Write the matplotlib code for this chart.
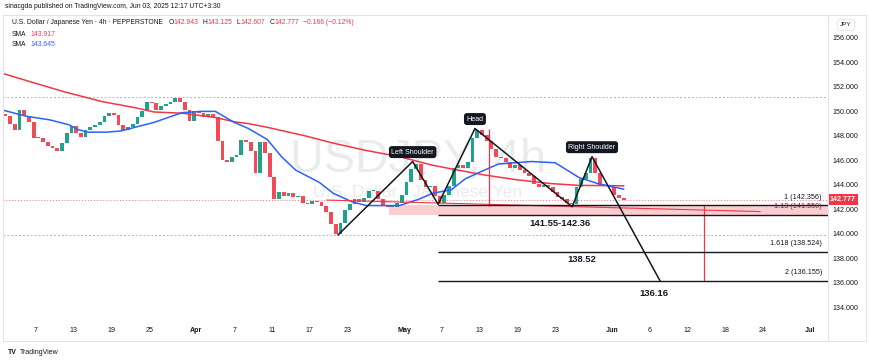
import matplotlib
matplotlib.use("Agg")
import matplotlib.pyplot as plt
import numpy as np
from matplotlib import font_manager
from matplotlib.patches import Rectangle
from matplotlib.lines import Line2D
from matplotlib.transforms import blended_transform_factory

W, H = 870, 363

installed = {f.name for f in font_manager.fontManager.ttflist}
NARROW = 'Liberation Sans Narrow' in installed
BASE_FONT = 'Liberation Sans Narrow' if NARROW else 'Liberation Sans'
FS = 1.0 if NARROW else 0.84
plt.rcParams['font.family'] = [BASE_FONT, 'DejaVu Sans']

# ---- data (x in trading days from Mon Mar 3, 2025; prices in JPY) ----
first_open = 149.8
closes_12h = [
    149.6, 149.0, 148.5, 150.1, 149.6, 149.1, 147.8, 147.8, 147.5, 147.2,
    147.0, 146.8, 147.4, 148.2, 148.8, 148.2, 147.9, 148.5, 148.7, 148.9,
    149.1, 149.6, 149.9, 149.7, 148.9, 148.5, 148.7, 149.0, 149.5, 150.0,
    150.8, 150.7, 150.1, 150.4, 150.6, 150.8, 151.1, 150.8, 150.1, 149.2,
    150.0, 149.9, 149.5, 149.8, 149.5, 147.6, 146.0, 145.9, 146.3, 146.4,
    147.7, 147.5, 146.8, 145.0, 147.5, 146.6, 144.6, 142.8, 143.4, 143.1,
    143.3, 143.0, 143.1, 142.5, 142.4, 142.7, 142.6, 142.3, 141.8, 140.8,
    140.0, 140.9, 141.9, 142.4, 142.8, 142.6, 142.9, 143.5, 143.5, 142.8,
    142.3, 142.2, 142.2, 142.5, 143.2, 144.2, 145.3, 145.7, 144.4, 143.8,
    143.9, 143.1, 142.5, 143.2, 143.9, 145.4, 145.6, 145.4, 145.9, 147.8,
    148.5, 148.1, 147.6, 146.9, 146.3, 146.2, 145.9, 145.4, 145.6, 145.2,
    145.0, 144.7, 144.1, 143.8, 144.0, 143.8, 143.4, 143.0, 142.8, 142.5,
    142.4, 143.8, 144.5, 145.0, 146.2, 145.0, 144.0, 143.9, 143.8, 143.2,
    142.9, 142.777,
]

sma_slow_t = [0.5, 3.5, 7, 11, 14.5, 16.5, 19.5, 23, 25, 26.5, 28.5, 32.5,
              35.5, 39, 42.5, 46, 48, 51.5, 55, 58.5, 61.5, 66.25]
sma_slow_p = [153.1, 152.4, 151.6, 150.8, 150.3, 149.95, 149.85, 149.5, 149.15,
              149.0, 148.7, 148.0, 147.4, 146.8, 146.3, 145.6, 145.3, 144.8,
              144.4, 144.1, 143.95, 143.917]

sma_fast_t = [0.5, 3, 5.5, 7.5, 8.5, 9.5, 11.5, 13, 15, 16.5, 18, 19.5, 21.5,
              23, 25, 26.5, 28.5, 30, 31.5, 34, 35.5, 37.5, 39, 41, 42.5, 44.5,
              46, 48, 49.5, 51.5, 53, 56.5, 59, 61.5, 63.5, 66.25]
sma_fast_p = [150.1, 149.6, 149.3, 148.9, 148.5, 148.3, 148.3, 148.4, 148.8,
              149.1, 149.5, 149.9, 150.0, 150.0, 149.1, 148.6, 147.7, 146.3,
              145.2, 144.2, 143.3, 142.6, 142.3, 142.3, 142.3, 142.8, 143.3,
              143.6, 144.5, 145.2, 145.7, 145.9, 145.8, 144.6, 144.1, 143.645]

pattern_t = [36.0, 43.9, 46.6, 50.5, 60.8, 62.9, 70.1]
pattern_p = [139.9, 145.9, 142.4, 148.6, 142.2, 146.3, 136.155]
pattern_names = {1: 'Left Shoulder', 3: 'Head', 5: 'Right Shoulder'}

fib_ratios = ['1', '1.13', '1.618', '2']
fib_prices = [142.356, 141.550, 138.524, 136.155]
fib_start_t = 46.6

zone_start_t = 41.4
zone_low, zone_high = 141.55, 142.356
slope_t = [34.8, 80.7]
slope_p = [142.75, 141.81]
measure_t = [52.0, 74.8]
measure_top = [148.6, 142.356]
measure_bottom = [142.3, 136.155]
level_lines = [151.2, 139.9]
target_texts = ['141.55-142.36', '138.52', '136.16']
target_t = [59.5, 61.85, 69.4]
target_p = [140.87, 137.85, 135.07]

last_price = 142.777
ohlc_names = ['O', 'H', 'L', 'C']
ohlc_values = [142.943, 143.125, 142.607, 142.777]
change, change_pct = -0.166, -0.12
sma_values = [143.917, 143.645]

date_tick_t = [4, 8, 12, 16, 21, 25, 29, 33, 37, 43, 47, 51, 55, 59, 65, 69,
               73, 77, 81, 86]
date_tick_labels = ['7', '13', '19', '25', 'Apr', '7', '11', '17', '23', 'May',
                    '7', '13', '19', '23', 'Jun', '6', '12', '18', '24', 'Jul']
price_ticks = list(range(134, 157, 2))

UP, DOWN, BLUE, INK = '#089981', '#F23645', '#2962FF', '#131722'

fig = plt.figure(figsize=(W / 100, H / 100), dpi=100)
ax = fig.add_axes([3 / W, 1 - 322 / H, (828 - 3) / W, (322 - 15) / H])
ax.set_xlim(0.504, 87.9)
ax.set_ylim(132.78, 157.88)
for s in ax.spines.values():
    s.set_visible(False)

# watermark
ax.text(0.503, 0.528, 'USDJPY, 4h', transform=ax.transAxes, ha='center',
        va='center', fontsize=40 * FS, color='#787b86', alpha=0.15, zorder=0)
ax.text(0.503, 0.423, 'U.S. Dollar / Japanese Yen', transform=ax.transAxes,
        ha='center', va='center', fontsize=15 * FS, color='#787b86', alpha=0.15, zorder=0)

# candles
closes = np.array(closes_12h)
opens = np.concatenate([[first_open], closes[:-1]])
bar_t = 0.5 * np.arange(1, len(closes) + 1) + 0.25
colors = np.where(closes >= opens, UP, DOWN)
ax.bar(bar_t, np.maximum(np.abs(closes - opens), 0.08), bottom=np.minimum(opens, closes),
       width=0.4, color=colors, linewidth=0, alpha=0.9, zorder=3)

ax.plot(sma_slow_t, sma_slow_p, color=DOWN, lw=1.1, zorder=4)
ax.plot(sma_fast_t, sma_fast_p, color=BLUE, lw=1.1, zorder=4)

# drawings
for p in level_lines:
    ax.axhline(p, color='#b2b5be', lw=0.7, ls=(0, (2, 2)), zorder=1)
ax.axhline(last_price, color=DOWN, lw=0.7, ls=(0, (1, 2)), alpha=0.7, zorder=1)
ax.add_patch(Rectangle((zone_start_t, zone_low), 87.9 - zone_start_t, zone_high - zone_low,
                       fc=DOWN, alpha=0.25, ec='none', zorder=2))
ax.plot(slope_t, slope_p, color=DOWN, lw=0.8, zorder=5)
ax.vlines(measure_t, measure_bottom, measure_top, color=DOWN, lw=0.9, zorder=5)

for ratio, p in zip(fib_ratios, fib_prices):
    ax.hlines(p, fib_start_t, 87.9, color=INK, lw=1.0, zorder=5)
    ax.annotate(f'{ratio} ({p:.3f})', (87.26, p), xytext=(0, 5.6), textcoords='offset points',
                ha='right', va='center', fontsize=6.2 * FS,
                color='#7a2a30' if ratio == '1.13' else INK, zorder=6)

ax.plot(pattern_t, pattern_p, color=INK, lw=1.1, zorder=6)
for i, name in pattern_names.items():
    ax.annotate(name, (pattern_t[i], pattern_p[i]), xytext=(0, 6.8), textcoords='offset points',
                ha='center', va='center', fontsize=6.1 * FS, color='white', zorder=7,
                bbox=dict(boxstyle='round,pad=0.35,rounding_size=0.4', fc=INK, ec='none'))

for s, t, p in zip(target_texts, target_t, target_p):
    ax.text(t, p, s, ha='center', va='center', fontsize=8 * FS, fontweight='bold',
            color=INK, zorder=7)

# axes
ax.set_xticks(date_tick_t, labels=date_tick_labels)
ax.tick_params(axis='x', length=0, pad=3.6, labelsize=6.1 * FS, colors=INK)
for lab in ax.get_xticklabels():
    if lab.get_text() in ('Apr', 'May', 'Jun', 'Jul'):
        lab.set_fontweight('bold')
ax.yaxis.tick_right()
ax.set_yticks(price_ticks, labels=[f'{v:.3f}' for v in price_ticks])
ax.tick_params(axis='y', length=0, pad=3.6, labelsize=6.1 * FS, colors=INK)

tr = blended_transform_factory(ax.transAxes, ax.transData)
ax.text(1.0025, last_price, f'{last_price:.3f}', transform=tr, ha='left', va='center',
        fontsize=6.1 * FS, fontweight='bold', color='white', zorder=10, clip_on=False,
        bbox=dict(boxstyle='square,pad=0.25', fc=DOWN, ec='none'))

# frame
fig.add_artist(Rectangle((3 / W, 1 - 341 / H), (866 - 3) / W, (341 - 15) / H,
                         transform=fig.transFigure, fill=False, ec='#e0e3eb', lw=0.8))
fig.add_artist(Line2D([828 / W, 828 / W], [1 - 341 / H, 1 - 15 / H],
                      transform=fig.transFigure, color='#e0e3eb', lw=0.8))
fig.text(846 / W, 1 - 25 / H, 'JPY', ha='center', va='center', fontsize=5.5 * FS, color=INK,
         bbox=dict(boxstyle='round,pad=0.45', fc='white', ec='#e0e3eb', lw=0.6))


def px(x, y):
    return x / W, 1 - y / H


def chain(parts, x, y, size):
    first = fig.text(*px(x, y), parts[0][0], color=parts[0][1], fontsize=size, va='center')
    prev = first
    for txt, col, gap in parts[1:]:
        prev = ax.annotate(txt, xy=(1, 0), xycoords=prev, xytext=(gap, 0),
                           textcoords='offset points', ha='left', va='bottom',
                           fontsize=size, color=col, annotation_clip=False)
    return first


fig.text(*px(5, 7), 'sinacgda published on TradingView.com, Jun 03, 2025 12:17 UTC+3:30',
         fontsize=5.8 * FS, va='center', color=INK)

line1 = [('U.S. Dollar / Japanese Yen · 4h · PEPPERSTONE', INK, 0)]
for i, (n, v) in enumerate(zip(ohlc_names, ohlc_values)):
    line1.append((n, INK, 4 if i == 0 else 3))
    line1.append((f'{v:.3f}', DOWN, 0))
line1.append((f'{change:.3f} ({change_pct:.2f}%)'.replace('-', '\u2212'), DOWN, 3))
chain(line1, 12, 22, 5.8 * FS)
chain([('SMA', INK, 0), (f'{sma_values[0]:.3f}', DOWN, 3)], 12, 34, 5.8 * FS)
chain([('SMA', INK, 0), (f'{sma_values[1]:.3f}', BLUE, 3)], 12, 45, 5.8 * FS)

logo = fig.text(*px(8, 352), 'TV', color=INK, fontsize=6.0 * FS, va='center', fontweight='bold')
ax.annotate('TradingView', xy=(1, 0), xycoords=logo, xytext=(2, 0), textcoords='offset points',
            ha='left', va='bottom', fontsize=6.0 * FS, color=INK, annotation_clip=False)

fig.savefig('out.png', dpi=100)
